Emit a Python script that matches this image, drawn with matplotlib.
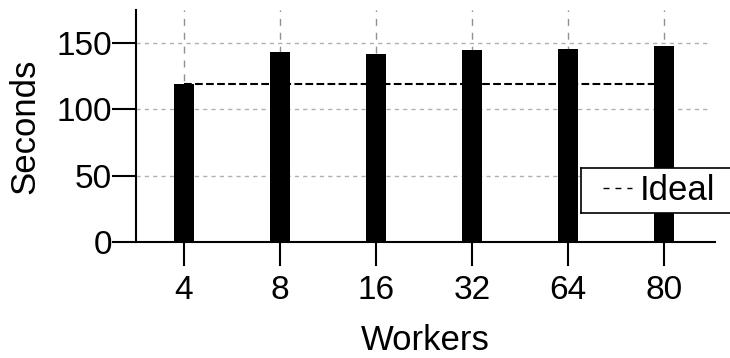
import matplotlib
matplotlib.use("Agg")
import matplotlib.pyplot as plt
from matplotlib.lines import Line2D
from matplotlib.legend_handler import HandlerLine2D
from matplotlib.transforms import IdentityTransform

workers = ["4", "8", "16", "32", "64", "80"]
seconds = [119.4, 143.2, 142.0, 145.0, 145.2, 147.5]
ideal = 119.0

plt.rcParams["font.family"] = ["Liberation Sans", "DejaVu Sans"]

fig = plt.figure(figsize=(7.30, 3.58), dpi=100)
ax = fig.add_axes([135.7 / 730, 1 - 241.7 / 358, (715 - 135.7) / 730, (241.7 - 10) / 358])

x = list(range(len(workers)))

# grid first so bars sit on top of it
for yv in [50, 100, 150]:
    ax.axhline(yv, xmax=0.993, color="#b0b0b0", lw=1.0, ls=(0, (3, 3)), zorder=0)
for xv in x:
    ax.axvline(xv, color="#909090", lw=1.0, ls=(4, (5, 5)), zorder=0)

ax.plot([x[0], x[-1]], [ideal, ideal], color="black", ls="--", lw=1.5, zorder=1)
ax.bar(x, seconds, width=0.21, color="black", zorder=2)

ax.set_xlim(-0.5, 5.53)
ax.set_ylim(0, 175)
ax.set_xticks(x)
ax.set_xticklabels(workers)
ax.set_yticks([0, 50, 100, 150])

for side in ["top", "right"]:
    ax.spines[side].set_visible(False)
for side in ["left", "bottom"]:
    ax.spines[side].set_linewidth(1.5)

ax.tick_params(axis="both", labelsize=24, length=17, width=1.5, direction="out")
ax.tick_params(axis="x", pad=7)
ax.tick_params(axis="y", pad=0)

ax.set_xlabel("Workers", fontsize=25, labelpad=13)
ax.set_ylabel("Seconds", fontsize=25, labelpad=11)

# short dashed handle for the legend
ideal_handle = Line2D([], [], color="black", lw=1.0, ls=(0, (4.3, 4.3)))
leg = ax.legend([ideal_handle], ["Ideal"], loc="upper left",
                bbox_to_anchor=(581 / 730, 1 - 168 / 358),
                bbox_transform=fig.transFigure, fontsize=25,
                frameon=True, fancybox=False, framealpha=1, borderaxespad=0,
                borderpad=0.18, handlelength=1.3, handletextpad=0.2,
                handler_map={ideal_handle: HandlerLine2D(xpad=0.45)})
leg.set_zorder(5)

frame = leg.get_frame()
frame.set_edgecolor("none")
frame_set_bounds = frame.set_bounds


def wide_bounds(*args):
    x0, y0, w, h = args[0] if len(args) == 1 else args
    frame_set_bounds(x0, y0, w + 60, h)


frame.set_bounds = wide_bounds

# the legend box runs off the right edge: only its top, bottom and left show
fig.canvas.draw()
bb = leg.get_window_extent()
x_end = fig.bbox.x1 + 20
for xs, ys in [([bb.x0, x_end], [bb.y1, bb.y1]),
               ([bb.x0, x_end], [bb.y0, bb.y0]),
               ([bb.x0, bb.x0], [bb.y0, bb.y1])]:
    fig.add_artist(Line2D(xs, ys, transform=IdentityTransform(),
                          color="black", lw=1.2, zorder=6))

fig.savefig("out.png", dpi=100)
